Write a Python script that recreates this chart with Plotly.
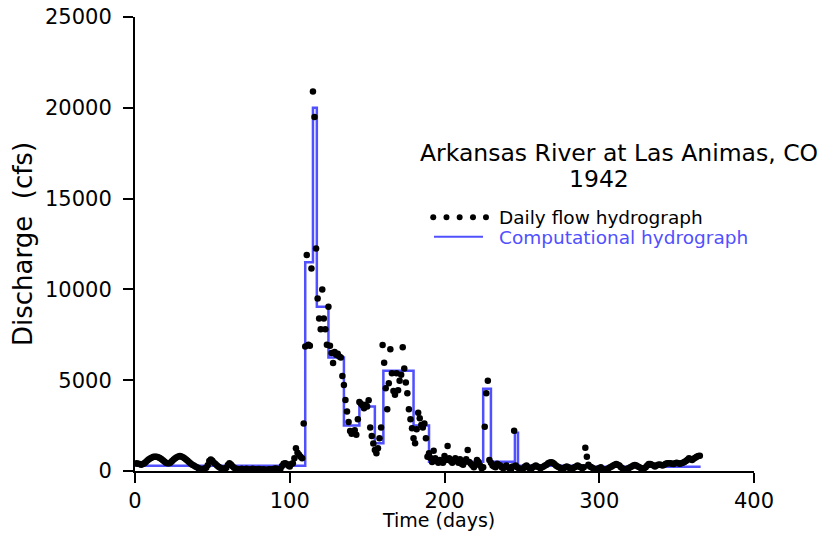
import plotly.graph_objects as go

# Daily discharge (cfs), days 1..365, in 10-day chunks
d001 = [420, 400, 380, 350, 380, 430, 500, 580, 650, 700]
d011 = [750, 780, 790, 780, 760, 720, 660, 590, 520, 460]
d021 = [430, 420, 470, 550, 630, 700, 760, 800, 820, 800]
d031 = [760, 700, 630, 560, 480, 410, 350, 300, 250, 200]
d041 = [150, 120, 90, 110, 140, 180, 320, 550, 640, 560]
d051 = [460, 380, 300, 240, 180, 140, 120, 100, 180, 330]
d061 = [420, 360, 260, 180, 130, 110, 90, 80, 120, 100]
d071 = [90, 130, 80, 60, 100, 120, 70, 90, 60, 110]
d081 = [80, 50, 90, 70, 60, 80, 100, 60, 90, 120]
d091 = [140, 110, 90, 120, 280, 400, 420, 380, 300, 250]
d101 = [380, 420, 700, 1250, 1000, 900, 790, 700, 2620, 6850]
d111 = [11900, 6950, 6900, 11150, 20900, 19500, 12250, 9500, 8400, 7800]
d121 = [10000, 8400, 7800, 6950, 9050, 6900, 6500, 5950, 6550, 6400]
d131 = [6450, 6300, 6250, 5230, 4740, 3910, 3270, 2700, 2200, 2050]
d141 = [2100, 2250, 2000, 2850, 3800, 3700, 3600, 3450, 3650, 3550]
d151 = [3900, 2400, 1930, 1520, 1150, 980, 1250, 1800, 2400, 6940]
d161 = [5960, 4550, 3400, 4830, 6700, 5380, 4400, 4200, 5380, 4450]
d171 = [4970, 5300, 6810, 5650, 4870, 4280, 3400, 2850, 2350, 1800]
d181 = [1525, 2300, 3210, 2900, 2530, 2400, 2620, 1800, 790, 975]
d191 = [720, 500, 1120, 700, 550, 450, 600, 500, 450, 820]
d201 = [600, 1380, 700, 550, 450, 600, 700, 550, 450, 650]
d211 = [400, 350, 500, 650, 1160, 500, 400, 300, 200, 350]
d221 = [600, 500, 300, 150, 200, 2440, 4280, 4970, 600, 450]
d231 = [300, 250, 200, 400, 350, 300, 200, 150, 250, 300]
d241 = [200, 150, 100, 250, 2220, 300, 200, 150, 100, 80]
d251 = [150, 250, 300, 200, 150, 100, 200, 250, 300, 250]
d261 = [200, 150, 200, 250, 300, 350, 420, 470, 480, 450]
d271 = [380, 300, 250, 200, 150, 100, 150, 200, 250, 200]
d281 = [150, 100, 150, 200, 250, 300, 250, 200, 150, 200]
d291 = [1280, 790, 350, 250, 200, 150, 100, 80, 120, 150]
d301 = [200, 100, 80, 60, 100, 150, 200, 250, 300, 350]
d311 = [385, 350, 300, 200, 150, 100, 80, 120, 150, 200]
d321 = [250, 300, 330, 300, 250, 200, 150, 100, 150, 200]
d331 = [300, 380, 385, 350, 300, 250, 300, 350, 360, 330]
d341 = [300, 350, 400, 420, 430, 420, 400, 380, 420, 450]
d351 = [430, 400, 420, 450, 500, 550, 620, 700, 650, 600]
d361 = [680, 730, 780, 820, 840]

chunks = [d001, d011, d021, d031, d041, d051, d061, d071, d081, d091,
          d101, d111, d121, d131, d141, d151, d161, d171, d181, d191,
          d201, d211, d221, d231, d241, d251, d261, d271, d281, d291,
          d301, d311, d321, d331, d341, d351, d361]
daily_flow = [v for c in chunks for v in c]
days = list(range(1, len(daily_flow) + 1))

# Computational (stepped) hydrograph: start day of each step and its discharge
step_start = [0, 110, 115, 117.5, 125, 135, 145, 155, 160.5, 180, 190, 225, 230, 245.5, 247.5, 295]
step_value = [290, 11500, 20000, 9050, 6250, 2500, 3550, 1530, 5520, 2500, 510, 4530, 510, 2110, 290, 240]
step_end = 365.5

x_ticks = [0, 100, 200, 300, 400]
y_ticks = [0, 5000, 10000, 15000, 20000, 25000]

BLUE = "#5050FF"
FONT = "DejaVu Sans"

fig = go.Figure()
fig.add_trace(go.Scatter(
    x=step_start + [step_end], y=step_value + [step_value[-1]],
    mode="lines", line=dict(color=BLUE, width=2.5, shape="hv"),
    name="Computational hydrograph", showlegend=False))
fig.add_trace(go.Scatter(
    x=days, y=daily_flow, mode="markers",
    marker=dict(color="black", size=6.5, line=dict(width=0)),
    name="Daily flow hydrograph", showlegend=False))

axis_common = dict(showline=True, linecolor="black", linewidth=2, ticks="outside",
                   ticklen=10, tickwidth=2, tickcolor="black", showgrid=False,
                   zeroline=False, automargin=False, ticklabeloverflow="allow",
                   tickfont=dict(family=FONT, size=21, color="black"))

fig.update_xaxes(range=[0, 400], tickvals=x_ticks, ticktext=[str(v) for v in x_ticks],
                 **axis_common)
fig.update_yaxes(range=[0, 25000], tickvals=y_ticks, ticktext=[str(v) for v in y_ticks],
                 title=dict(text="Discharge  (cfs)", font=dict(family=FONT, size=26, color="black"),
                            standoff=5),
                 ticklabelstandoff=7,
                 **axis_common)

# Legend drawn manually (five dots + line)
shapes = []
for px in [0.4818, 0.5032, 0.5245, 0.5460, 0.5670]:
    shapes.append(dict(type="circle", xref="paper", yref="paper",
                       xsizemode="pixel", ysizemode="pixel",
                       xanchor=px, yanchor=0.5588, x0=-3, x1=3, y0=-3, y1=3,
                       fillcolor="black", line=dict(width=0)))
shapes.append(dict(type="line", xref="paper", yref="paper",
                   x0=0.4830, x1=0.5622, y0=0.5161, y1=0.5161,
                   line=dict(color=BLUE, width=2)))

annotations = [
    dict(text="Arkansas River at Las Animas, CO", xref="paper", yref="paper",
         x=0.7819, y=0.700, xanchor="center", yanchor="middle", showarrow=False,
         font=dict(family=FONT, size=23.5, color="black")),
    dict(text="1942", xref="paper", yref="paper",
         x=0.7496, y=0.643, xanchor="center", yanchor="middle", showarrow=False,
         font=dict(family=FONT, size=23.5, color="black")),
    dict(text="Daily flow hydrograph", xref="paper", yref="paper",
         x=0.5848, y=0.5588, xanchor="left", yanchor="middle", showarrow=False,
         font=dict(family=FONT, size=18.5, color="black")),
    dict(text="Computational hydrograph", xref="paper", yref="paper",
         x=0.5848, y=0.5154, xanchor="left", yanchor="middle", showarrow=False,
         font=dict(family=FONT, size=18.5, color=BLUE)),
    # x-axis title
    dict(text="Time (days)", xref="paper", yref="paper",
         x=0.49, y=-0.107, xanchor="center", yanchor="middle", showarrow=False,
         font=dict(family=FONT, size=19, color="black")),
]

# The page body has an 8px margin, so the figure is sized to fit inside it
fig.update_layout(width=820, height=523, margin=dict(l=127, r=74, t=9, b=60),
                  plot_bgcolor="white", paper_bgcolor="white",
                  shapes=shapes, annotations=annotations, showlegend=False)

fig.write_html("out.html")
